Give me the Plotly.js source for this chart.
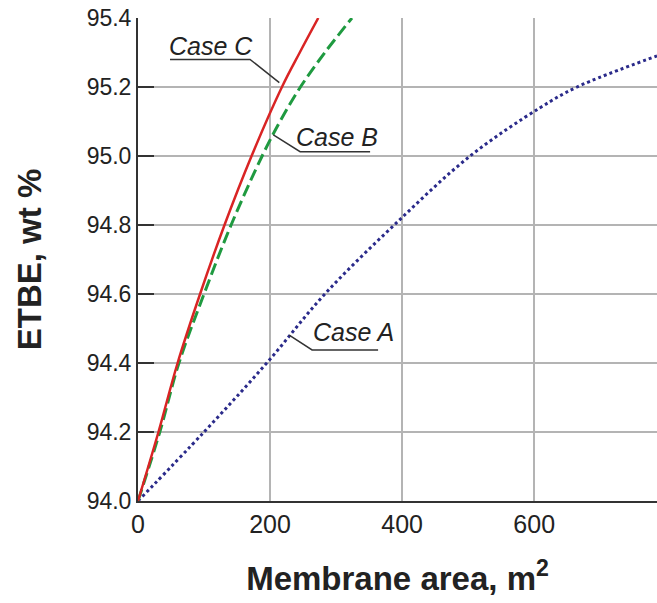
<!DOCTYPE html>
<html>
<head>
<meta charset="utf-8">
<script src="https://cdn.plot.ly/plotly-3.0.1.min.js"></script>
<style>html,body{margin:0;padding:0;background:#fff;}#chart{width:657px;height:603px;}</style>
</head>
<body>
<div id="chart"></div>
<script>
// Case A (blue dotted)
const caseA_x = [0, 100, 195, 283, 388, 503, 609, 665, 786];
const caseA_y = [94.0, 94.2, 94.4, 94.6, 94.8, 95.0, 95.14, 95.2, 95.29];
// Case B (green dashed)
const caseB_x = [0, 33, 62, 100, 141, 188, 215, 246, 283, 324];
const caseB_y = [94.0, 94.2, 94.4, 94.6, 94.8, 95.0, 95.1, 95.2, 95.3, 95.4];
// Case C (red solid)
const caseC_x = [0, 31, 60, 94, 131, 172, 218, 245, 273];
const caseC_y = [94.0, 94.2, 94.4, 94.6, 94.8, 95.0, 95.2, 95.3, 95.4];

const xTicks = [0, 200, 400, 600];
const yTicks = [94.0, 94.2, 94.4, 94.6, 94.8, 95.0, 95.2, 95.4];
const yTickLabels = ['94.0', '94.2', '94.4', '94.6', '94.8', '95.0', '95.2', '95.4'];
const labels = ['Case A', 'Case B', 'Case C'];

const FONT = 'Liberation Sans, Arial, sans-serif';

const traces = [
  {x: caseA_x, y: caseA_y, mode: 'lines', line: {color: '#2a2a8a', width: 3, dash: 'dot', shape: 'spline', smoothing: 1}, name: labels[0]},
  {x: caseB_x, y: caseB_y, mode: 'lines', line: {color: '#1f9a40', width: 3, dash: '12px,5px', shape: 'spline', smoothing: 1}, name: labels[1]},
  {x: caseC_x, y: caseC_y, mode: 'lines', line: {color: '#d92424', width: 2.5, shape: 'spline', smoothing: 1}, name: labels[2]}
];

const leader = {type: 'path', xref: 'x', yref: 'y', line: {color: '#333', width: 1.5}};

const layout = {
  width: 657, height: 603,
  margin: {l: 138, r: 0, t: 18, b: 102},
  paper_bgcolor: '#fff', plot_bgcolor: '#fff',
  showlegend: false,
  font: {family: FONT, color: '#222'},
  xaxis: {
    range: [0, 786], tickvals: xTicks, ticktext: xTicks.map(String),
    showgrid: true, gridcolor: '#b4b4b4', gridwidth: 1.5,
    zeroline: false, showline: true, linecolor: '#333', linewidth: 2,
    ticks: '', tickfont: {size: 25, family: FONT, color: '#222'},
    title: {text: '<b>Membrane area, m<sup>2</sup></b>', font: {size: 33, family: FONT, color: '#222'}, standoff: 30},
    automargin: false
  },
  yaxis: {
    range: [94.0, 95.4], tickvals: yTicks, ticktext: yTickLabels,
    showgrid: true, gridcolor: '#b4b4b4', gridwidth: 1.5,
    zeroline: false, showline: true, linecolor: '#333', linewidth: 2,
    ticks: 'inside', ticklen: 16, tickwidth: 2.5, tickcolor: '#333',
    tickfont: {size: 23, family: FONT, color: '#222'},
    title: {text: '<b>ETBE, wt %</b>', font: {size: 33, family: FONT, color: '#222'}, standoff: 35},
    automargin: false
  },
  annotations: [
    {x: 110, y: 95.318, xref: 'x', yref: 'y', text: '<i>' + labels[2] + '</i>', showarrow: false, font: {size: 25, family: FONT, color: '#222'}, xanchor: 'center', yanchor: 'middle'},
    {x: 301, y: 95.055, xref: 'x', yref: 'y', text: '<i>' + labels[1] + '</i>', showarrow: false, font: {size: 25, family: FONT, color: '#222'}, xanchor: 'center', yanchor: 'middle'},
    {x: 326, y: 94.49, xref: 'x', yref: 'y', text: '<i>' + labels[0] + '</i>', showarrow: false, font: {size: 25, family: FONT, color: '#222'}, xanchor: 'center', yanchor: 'middle'}
  ],
  shapes: [
    Object.assign({}, leader, {path: 'M 48.5,95.280 L 169.7,95.280 L 214,95.2125'}),
    Object.assign({}, leader, {path: 'M 351.5,95.0125 L 245.5,95.0125 L 205,95.061'}),
    Object.assign({}, leader, {path: 'M 363.6,94.438 L 263.6,94.438 L 229,94.481'})
  ]
};

Plotly.newPlot('chart', traces, layout, {displayModeBar: false, staticPlot: true});
</script>
</body>
</html>
